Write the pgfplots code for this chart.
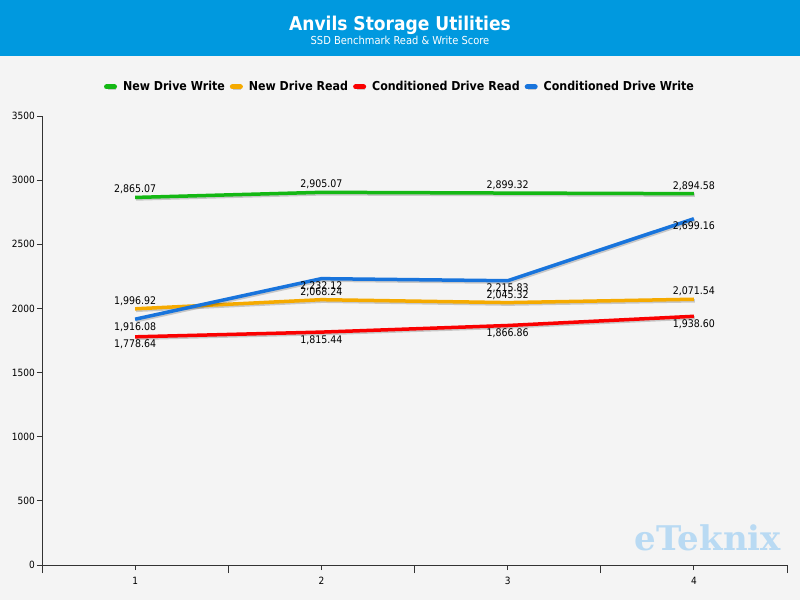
\documentclass[border=0pt]{standalone}
\usepackage{pgfplots}
\pgfplotsset{compat=1.18}
\usepackage{fontspec}
\setmainfont{DejaVu Sans Condensed}
\newfontfamily\wmfont{DejaVu Serif}

\definecolor{bgc}{HTML}{F4F4F4}
\definecolor{banner}{HTML}{0099DF}
\definecolor{cgreen}{HTML}{14B814}
\definecolor{cyellow}{HTML}{F5AA00}
\definecolor{cred}{HTML}{FA0000}
\definecolor{cblue}{HTML}{1874DC}
\definecolor{axc}{HTML}{333333}
\definecolor{wm}{HTML}{B9DAF3}

\pgfplotsset{
  series/.style={color=#1, line width=3.5bp, line join=round, mark=none,
    preaction={draw=black, opacity=0.18, line width=3.5bp,
      transform canvas={shift={(1bp,-1.5bp)}}}},
  labup/.style={nodes near coords, point meta=explicit,
    every node near coord/.append style={anchor=south, inner sep=1.5bp, black}},
  labdown/.style={nodes near coords, point meta=explicit,
    every node near coord/.append style={anchor=north, inner sep=1.5bp, black}},
}

\begin{document}
\begin{tikzpicture}
\fill[bgc] (0,0) rectangle (800bp,600bp);
\fill[banner] (0,544bp) rectangle (800bp,600bp);
\node[white, font=\fontsize{19bp}{22bp}\selectfont\bfseries] at (400bp,575bp) {Anvils Storage Utilities};
\node[white, font=\fontsize{11bp}{13bp}\selectfont] at (400bp,560bp) {SSD Benchmark Read \& Write Score};
\node[wm, font=\fontsize{34bp}{38bp}\selectfont\wmfont\bfseries] at (708bp,62bp) {eTeknix};

\begin{axis}[
  at={(42bp,35bp)}, anchor=south west,
  scale only axis, width=745bp, height=449bp,
  xmin=0.5, xmax=4.5, ymin=0, ymax=3500,
  axis lines*=left,
  axis line style={axc, line width=0.8bp, -},
  tick style={axc, line width=0.8bp},
  tick align=outside,
  major tick length=5bp,
  xtick={1,2,3,4},
  extra x ticks={0.5,1.5,2.5,3.5,4.5},
  extra x tick labels={},
  extra x tick style={major tick length=8bp},
  ytick={0,500,...,3500},
  scaled y ticks=false,
  /pgf/number format/assume math mode=true,
  yticklabel style={/pgf/number format/1000 sep={}, font=\fontsize{10bp}{12bp}\selectfont, inner sep=2bp},
  xticklabel style={font=\fontsize{10bp}{12bp}\selectfont, yshift=-4bp},
  nodes near coords style={font=\fontsize{10.5bp}{12bp}\selectfont,
    /pgf/number format/fixed, /pgf/number format/fixed zerofill,
    /pgf/number format/precision=2, /pgf/number format/1000 sep={,}},
  clip=false,
  legend columns=4,
  legend style={at={(0.4805,1.0646)}, anchor=center, draw=none, fill=none,
    font=\fontsize{12.3bp}{14bp}\selectfont\bfseries,
    /tikz/every odd column/.append style={column sep=4bp},
    /tikz/every even column/.append style={column sep=3bp}},
  legend image code/.code={\draw[#1, line width=5bp, line cap=round, preaction={draw=none}] (2bp,0bp) -- (10bp,0bp);},
]
\addplot[series=cgreen, labup] table[meta=y] {
x y
1 2865.07
2 2905.07
3 2899.32
4 2894.58
};
\addlegendentry{New Drive Write}
\addplot[series=cyellow, labup] table[meta=y] {
x y
1 1996.92
2 2068.24
3 2045.32
4 2071.54
};
\addlegendentry{New Drive Read}
\addplot[series=cred, labdown] table[meta=y] {
x y
1 1778.64
2 1815.44
3 1866.86
4 1938.60
};
\addlegendentry{Conditioned Drive Read}
\addplot[series=cblue, labdown] table[meta=y] {
x y
1 1916.08
2 2232.12
3 2215.83
4 2699.16
};
\addlegendentry{Conditioned Drive Write}
\end{axis}
\end{tikzpicture}
\end{document}
